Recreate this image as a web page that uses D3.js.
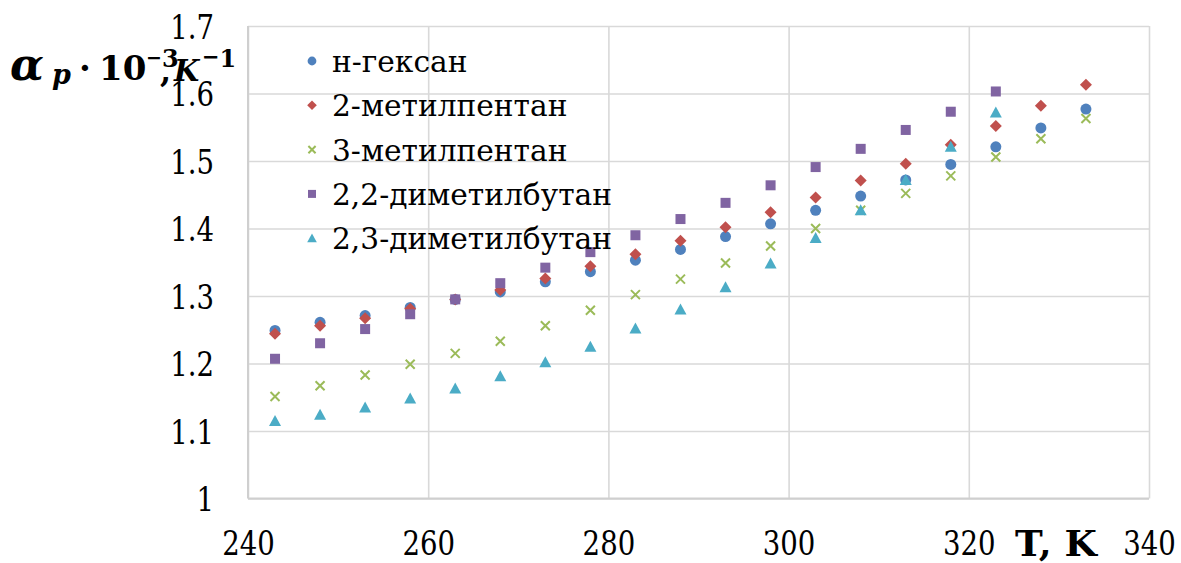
<!DOCTYPE html>
<html><head><meta charset="utf-8">
<script src="https://cdn.jsdelivr.net/npm/d3@7"></script>
<style>body{margin:0;background:#fff}svg{display:block}</style>
</head><body>
<svg id="c" width="1181" height="563"></svg>
<script>
const temps = [243,248,253,258,263,268,273,278,283,288,293,298,303,308,313,318,323,328,333];
const hexane = [1.249,1.261,1.271,1.283,1.295,1.306,1.321,1.336,1.353,1.369,1.388,1.407,1.427,1.448,1.472,1.495,1.521,1.549,1.577];
const mp2 = [1.244,1.256,1.267,1.281,1.295,1.309,1.326,1.344,1.362,1.382,1.402,1.424,1.446,1.471,1.496,1.524,1.552,1.582,1.613];
const mp3 = [1.151,1.167,1.183,1.199,1.215,1.233,1.256,1.279,1.302,1.325,1.349,1.374,1.400,1.427,1.452,1.478,1.506,1.533,1.563];
const dmb22 = [1.207,1.230,1.251,1.273,1.295,1.319,1.342,1.365,1.390,1.414,1.438,1.464,1.491,1.518,1.546,1.573,1.603,null,null];
const dmb23 = [1.115,1.124,1.135,1.148,1.163,1.181,1.202,1.225,1.252,1.280,1.313,1.348,1.386,1.427,1.472,1.521,1.572,null,null];
const seriesNames = ["н-гексан","2-метилпентан","3-метилпентан","2,2-диметилбутан","2,3-диметилбутан"];
const xTicks = [240,260,280,300,320,340];
const yTicks = [1,1.1,1.2,1.3,1.4,1.5,1.6,1.7];

const series = [
  {name: seriesNames[0], values: hexane, color: "#4F81BD", shape: "circle"},
  {name: seriesNames[1], values: mp2, color: "#C0504D", shape: "diamond"},
  {name: seriesNames[2], values: mp3, color: "#9BBB59", shape: "x"},
  {name: seriesNames[3], values: dmb22, color: "#8064A2", shape: "square"},
  {name: seriesNames[4], values: dmb23, color: "#4BACC6", shape: "triangle"}
];

const FF = '"DejaVu Serif", serif';
const svg = d3.select("#c");
const L = 248, R = 1149, T = 26, B = 498.5;
const x = d3.scaleLinear().domain([240,340]).range([L,R]);
const y = d3.scaleLinear().domain([1,1.7]).range([B,T]);

// condense helper: squeeze text horizontally by a ratio
function condense(sel, ratio) {
  sel.each(function(){
    const n = this.getComputedTextLength();
    d3.select(this).attr("textLength", n*ratio).attr("lengthAdjust","spacingAndGlyphs");
  });
}

// grid + ticks
const gx = svg.append("g").attr("transform",`translate(0,${B})`)
  .call(d3.axisBottom(x).tickValues(xTicks).tickSize(-(B-T)).tickFormat(d=>d).tickPadding(0));
gx.select(".domain").remove();
gx.attr("font-family",FF).attr("font-size",34);
gx.selectAll("line").attr("stroke","#D9D9D9").attr("stroke-width",1.6);
gx.selectAll("text").attr("y",56).attr("dy",0).attr("fill","#000");
const r240 = 52.6 / gx.select("text").node().getComputedTextLength();
condense(gx.selectAll("text"), r240);

const gy = svg.append("g").attr("transform",`translate(${L},0)`)
  .call(d3.axisLeft(y).tickValues(yTicks).tickSize(-(R-L)).tickFormat(d=>String(+d.toFixed(1))).tickPadding(0));
gy.select(".domain").remove();
gy.attr("font-family",FF).attr("font-size",34);
gy.selectAll("line").attr("stroke","#D9D9D9").attr("stroke-width",1.6);
gy.selectAll("text").attr("x",-34).attr("dy","0.36em").attr("fill","#000");
condense(gy.selectAll("text"), r240);

// axis lines
svg.append("line").attr("x1",L).attr("x2",L).attr("y1",T).attr("y2",B).attr("stroke","#CFCFCF").attr("stroke-width",2);
svg.append("line").attr("x1",L).attr("x2",R).attr("y1",B).attr("y2",B).attr("stroke","#CFCFCF").attr("stroke-width",2);

function drawMarker(g, shape, color, s) {
  if (shape === "circle") g.append("circle").attr("r",5.5*s).attr("fill",color);
  else if (shape === "diamond") g.append("path").attr("d",`M0,${-6*s}L${6*s},0L0,${6*s}L${-6*s},0Z`).attr("fill",color);
  else if (shape === "square") g.append("rect").attr("x",-5*s).attr("y",-5*s).attr("width",10*s).attr("height",10*s).attr("fill",color);
  else if (shape === "triangle") g.append("path").attr("d",`M0,${-6*s}L${6*s},${5*s}L${-6*s},${5*s}Z`).attr("fill",color);
  else if (shape === "x") g.append("path").attr("d",`M${-4.5*s},${-4.5*s}L${4.5*s},${4.5*s}M${4.5*s},${-4.5*s}L${-4.5*s},${4.5*s}`)
      .attr("stroke",color).attr("stroke-width",2).attr("fill","none");
}

series.forEach(s => {
  const g = svg.append("g");
  s.values.forEach((v,i) => {
    if (v == null) return;
    const m = g.append("g").attr("transform",`translate(${x(temps[i])},${y(v)})`);
    drawMarker(m, s.shape, s.color, 1);
  });
});

// legend
const leg = svg.append("g").attr("font-family",FF).attr("font-size",29);
series.forEach((s,i) => {
  const yy = 61 + i*44.3;
  const m = leg.append("g").attr("transform",`translate(312,${yy})`);
  drawMarker(m, s.shape, s.color, 0.8);
  leg.append("text").attr("x",332).attr("y",yy+11).attr("fill","#000").text(s.name);
});
const legTexts = leg.selectAll("text");
const rLeg = 280 / legTexts.nodes()[3].getComputedTextLength();
condense(legTexts, rLeg);

// y title
const yt = svg.append("g").attr("font-family",FF).attr("font-weight","bold").attr("fill","#000");
yt.append("text").attr("x",10).attr("y",80).attr("font-size",44).attr("font-style","italic").text("α");
yt.append("text").attr("x",52).attr("y",84).attr("font-size",27).attr("font-style","italic").text("p");
yt.append("text").attr("x",79).attr("y",80).attr("font-size",34).text("·");
yt.append("text").attr("x",99).attr("y",80).attr("font-size",34).text("10");
const s3 = yt.append("text").attr("x",146).attr("y",67);
s3.append("tspan").attr("font-size",19).attr("dy",-3).text("−");
s3.append("tspan").attr("font-size",24).attr("dy",3).text("3");
yt.append("text").attr("x",160).attr("y",82).attr("font-size",32).text(",");
yt.append("text").attr("x",174).attr("y",81).attr("font-size",29).attr("font-style","italic").text("K");
const s1 = yt.append("text").attr("x",202).attr("y",67);
s1.append("tspan").attr("font-size",21).attr("dy",-3).text("−");
s1.append("tspan").attr("font-size",24).attr("dy",3).text("1");

// x title
const tk = svg.append("text").attr("x",1015).attr("y",556).attr("font-family",FF)
  .attr("font-weight","bold").attr("font-size",35).attr("fill","#000").text("T, K");
condense(tk, 82 / tk.node().getComputedTextLength());
</script>
</body></html>
